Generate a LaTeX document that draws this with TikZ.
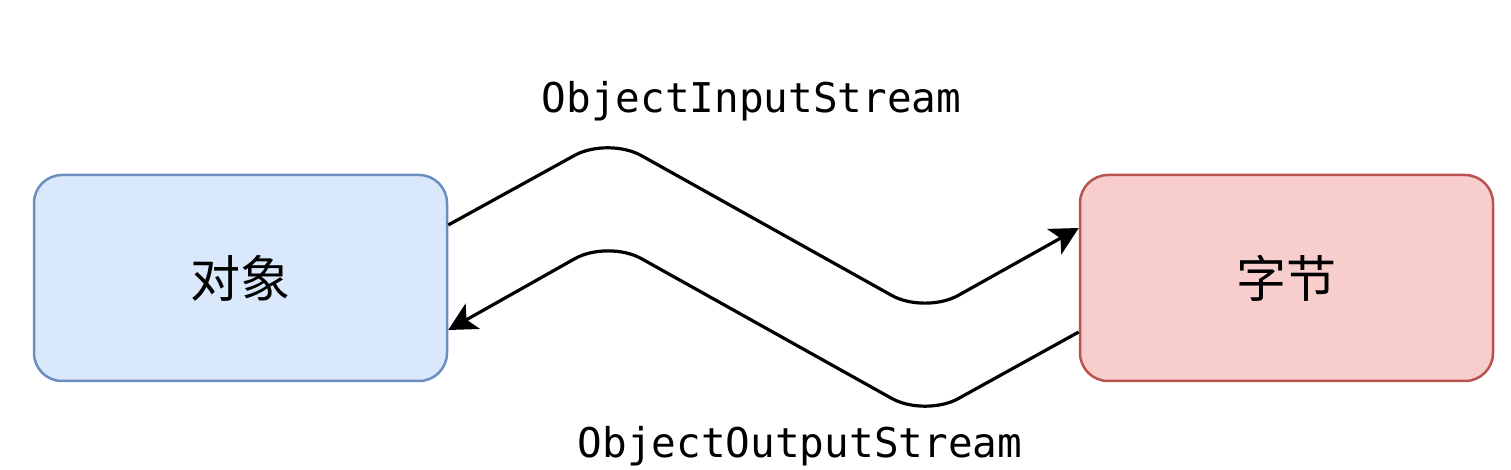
\documentclass[tikz,border=0pt]{standalone}
\usepackage{fontspec}
\newfontfamily\cjk{Noto Sans CJK SC}
\newfontfamily\mono{DejaVu Sans Mono}
\usetikzlibrary{arrows.meta}
\definecolor{bluefill}{HTML}{DAE8FC}
\definecolor{bluedraw}{HTML}{6C8EBF}
\definecolor{redfill}{HTML}{F8CECC}
\definecolor{reddraw}{HTML}{B85450}
\tikzset{
  box/.style={rounded corners=14pt, line width=1.25pt, minimum width=206.5pt, minimum height=103pt, inner sep=0pt, font=\cjk\fontsize{25pt}{25pt}\selectfont},
  bluebox/.style={box, draw=bluedraw, fill=bluefill},
  redbox/.style={box, draw=reddraw, fill=redfill},
  flow/.style={line width=1.6pt, rounded corners=19pt, -{Stealth[length=14pt, width=14.5pt, inset=3.5pt]}},
  lbl/.style={font=\mono\fontsize{20.5pt}{20.5pt}\selectfont, anchor=base, inner sep=0pt}
}
\begin{document}
\begin{tikzpicture}[x=0.5pt, y=-0.5pt]
\useasboundingbox (0,0) rectangle (1511,470);
\node[bluebox] (obj) at (240.5,278) {\raisebox{2pt}{对象}};
\node[redbox] (byte) at (1286.5,278) {\raisebox{2pt}{字节}};
\coordinate (t1) at (608,137);
\coordinate (t2) at (925,314);
\coordinate (b1) at (925,417);
\coordinate (b2) at (608,240);
\draw[flow] ([yshift=26.5pt]obj.east) -- (t1) -- (t2) -- ([yshift=25pt]byte.west);
\draw[flow] ([yshift=-27pt]byte.west) -- (b1) -- (b2) -- ([yshift=-26pt]obj.east);
\node[lbl] (lin) at (751.5,113) {ObjectInputStream};
\node[lbl] (lout) at (800,458) {ObjectOutputStream};
\end{tikzpicture}
\end{document}
